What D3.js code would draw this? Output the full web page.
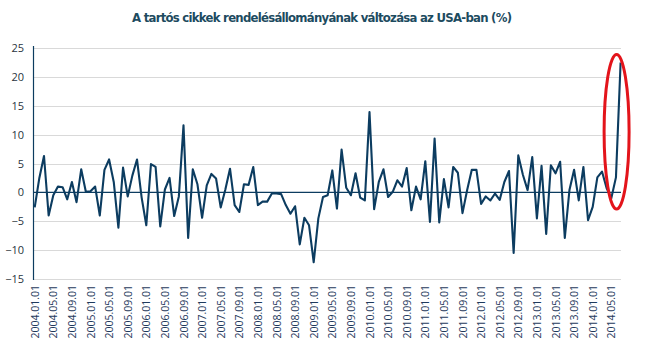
<!DOCTYPE html>
<html>
<head>
<meta charset="utf-8">
<script src="https://cdn.jsdelivr.net/npm/d3@7"></script>
<style>
  html, body { margin: 0; padding: 0; background: #fff; }
  svg { display: block; }
</style>
</head>
<body>
<svg id="chart" width="645" height="348"></svg>
<script>
// Monthly change of US durable goods orders, 2004.01 – 2014.07 (%)
const title = "A tartós cikkek rendelésállományának változása az USA-ban (%)";

const startYear = 2004;
const startMonth = 1;

const values = [
  -2.6, 2.5, 6.3, -4.0, -0.5, 1.0, 0.9, -1.2, 1.8, -1.7, 4.0, 0.1,
  0.2, 1.0, -4.0, 3.9, 5.7, 1.8, -6.1, 4.3, -0.7, 2.9, 5.7, -0.9,
  -5.7, 4.9, 4.4, -5.9, 0.5, 2.5, -4.1, -0.7, 11.6, -7.9, 4.0, 1.4,
  -4.4, 1.2, 3.2, 2.4, -2.6, 0.5, 4.1, -2.2, -3.4, 1.4, 1.3, 4.4,
  -2.2, -1.6, -1.6, -0.2, -0.2, -0.3, -2.2, -3.7, -2.4, -9.0, -4.4, -5.7,
  -12.1, -4.5, -0.8, -0.5, 3.8, -2.8, 7.4, 0.8, -0.5, 3.3, -0.9, -1.4,
  13.9, -2.9, 1.8, 4.0, -0.8, 0.1, 2.1, 1.0, 4.2, -3.1, 1.0, -1.2,
  5.4, -5.1, 9.3, -5.2, 2.3, -2.6, 4.4, 3.4, -3.6, 0.4, 3.9, 3.9,
  -2.0, -0.7, -1.4, -0.2, -1.3, 1.8, 3.7, -10.5, 6.4, 3.0, 0.4, 6.1,
  -4.5, 4.6, -7.2, 4.7, 3.3, 5.3, -7.9, 0.4, 3.9, -1.4, 4.4, -4.8,
  -2.5, 2.6, 3.6, 0.7, -1.0, 2.6, 22.5
];

const yTicks = [-15, -10, -5, 0, 5, 10, 15, 20, 25];
const labelEvery = 4;

// Month labels in the "YYYY.MM.01" form
const months = values.map((v, i) => {
  const m0 = startMonth - 1 + i;
  const y = startYear + Math.floor(m0 / 12);
  const m = (m0 % 12) + 1;
  return `${y}.${String(m).padStart(2, "0")}.01`;
});
const data = months.map((m, i) => ({ month: m, value: values[i] }));

const svg = d3.select("#chart");

const plot = { left: 33, right: 621, top: 48, bottom: 279 };

const x = d3.scalePoint()
  .domain(months)
  .range([34.7, 620.6]);

const y = d3.scaleLinear()
  .domain([-15, 25])
  .range([plot.bottom, plot.top]);

const lineColor = "#0c3c60";

// Title, centred over the chart
svg.append("text")
  .attr("x", 322)
  .attr("y", 22)
  .attr("text-anchor", "middle")
  .attr("font-family", "'DejaVu Sans Condensed', 'DejaVu Sans', sans-serif")
  .attr("font-weight", "bold")
  .attr("font-size", 13)
  .attr("fill", "#1d4b5f")
  .attr("textLength", 380)
  .attr("lengthAdjust", "spacing")
  .text(title);

// Horizontal gridlines
svg.append("g")
  .selectAll("line")
  .data(yTicks.filter(t => t !== 0))
  .join("line")
  .attr("x1", plot.left)
  .attr("x2", plot.right)
  .attr("y1", d => Math.round(y(d)) + 0.5)
  .attr("y2", d => Math.round(y(d)) + 0.5)
  .attr("stroke", "#d9d9d9")
  .attr("stroke-width", 1);

// Y axis (labels only, the axis line is drawn separately)
const yAxis = svg.append("g")
  .attr("transform", `translate(${plot.left},0)`)
  .call(d3.axisLeft(y).tickValues(yTicks).tickSize(0).tickPadding(9));
yAxis.select(".domain").remove();
yAxis.selectAll("text")
  .attr("font-family", "'Open Sans', sans-serif")
  .attr("font-size", 11)
  .attr("fill", "#2a3440");

// Vertical axis line
svg.append("line")
  .attr("x1", plot.left + 0.5)
  .attr("x2", plot.left + 0.5)
  .attr("y1", plot.top - 2)
  .attr("y2", plot.bottom + 1)
  .attr("stroke", lineColor)
  .attr("stroke-width", 1.2);

// Zero line
svg.append("line")
  .attr("x1", plot.left)
  .attr("x2", plot.right)
  .attr("y1", y(0))
  .attr("y2", y(0))
  .attr("stroke", lineColor)
  .attr("stroke-width", 1.2);

// X axis labels every 4 months, rotated
const xAxis = svg.append("g")
  .attr("transform", `translate(0,${plot.bottom})`)
  .call(d3.axisBottom(x)
    .tickValues(months.filter((m, i) => i % labelEvery === 0))
    .tickSize(0)
    .tickPadding(0));
xAxis.select(".domain").remove();
xAxis.selectAll("text")
  .attr("font-family", "'Open Sans', sans-serif")
  .attr("font-size", 10.5)
  .attr("fill", "#1f3a5c")
  .attr("transform", "rotate(-90)")
  .attr("text-anchor", "end")
  .attr("dy", "0.35em")
  .attr("dx", 0)
  .attr("x", -6)
  .attr("y", 0);

// Series line
svg.append("path")
  .datum(data)
  .attr("fill", "none")
  .attr("stroke", lineColor)
  .attr("stroke-width", 2.1)
  .attr("stroke-linejoin", "round")
  .attr("d", d3.line()
    .x(d => x(d.month))
    .y(d => y(d.value)));

// Highlight around the latest reading
const last = data[data.length - 1];
svg.append("ellipse")
  .attr("cx", x(last.month) - 4)
  .attr("cy", (y(last.value) + y(-1.5)) / 2)
  .attr("rx", 12.5)
  .attr("ry", (y(-1.5) - y(last.value)) / 2 + 8)
  .attr("fill", "none")
  .attr("stroke", "#e3141b")
  .attr("stroke-width", 3);
</script>
</body>
</html>
